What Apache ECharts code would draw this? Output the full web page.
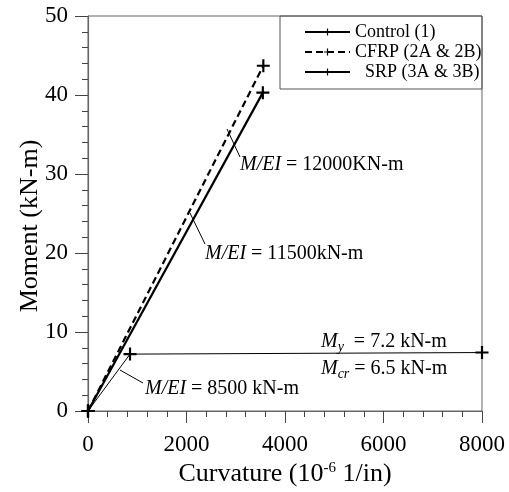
<!DOCTYPE html>
<html>
<head>
<meta charset="utf-8">
<script src="https://cdn.jsdelivr.net/npm/echarts@6/dist/echarts.min.js"></script>
<style>
  html, body { margin: 0; padding: 0; background: #fff; }
  #main { width: 509px; height: 492px; }
</style>
</head>
<body>
<div id="main"></div>
<script>
// data (curvature in 1e-6 1/in, moment in kN-m)
var controlData = [[0, 0], [853, 7.2], [8000, 7.4]];
var cfrpData = [[0, 0], [3560, 43.7]];
var srpData = [[0, 0], [3550, 40.3]];
var seriesNames = ['Control (1)', 'CFRP (2A & 2B)', 'SRP (3A & 3B)'];
var xTicks = [0, 2000, 4000, 6000, 8000];
var yTicks = [0, 10, 20, 30, 40, 50];

var serif = 'Liberation Serif';
var plus = 'path://M-1,-6H1V-1H6V1H1V6H-1V1H-6V-1H-1Z';

var myChart = echarts.init(document.getElementById('main'));

function note(x, y, value, unit) {
    return {
        type: 'text', x: x, y: y,
        style: {
            text: '{i|M/EI} = ' + value + unit,
            fontFamily: serif, fontSize: 20, fill: '#000',
            verticalAlign: 'middle',
            rich: { i: { fontFamily: serif, fontSize: 20, fontStyle: 'italic' } }
        }
    };
}
function leader(x1, y1, x2, y2) {
    return {
        type: 'line',
        shape: { x1: x1, y1: y1, x2: x2, y2: y2 },
        style: { stroke: '#000', lineWidth: 1 }
    };
}
function moment(x, y, sub, rest) {
    return {
        type: 'text', x: x, y: y,
        style: {
            text: '{i|M}{s|' + sub + '}' + rest,
            fontFamily: serif, fontSize: 20, fill: '#000',
            verticalAlign: 'middle',
            rich: {
                i: { fontFamily: serif, fontSize: 20, fontStyle: 'italic' },
                s: { fontFamily: serif, fontSize: 14, fontStyle: 'italic', verticalAlign: 'bottom', padding: [10, 0, 0, 0] }
            }
        }
    };
}

var option = {
    animation: false,
    grid: { left: 88, right: 27, top: 16, bottom: 81, show: true, borderColor: '#666', borderWidth: 1 },
    legend: {
        orient: 'vertical',
        left: 304, top: 23, padding: 0,
        itemWidth: 45, itemHeight: 9, itemGap: 2,
        data: seriesNames,
        formatter: function (name) {
            return name === seriesNames[2] ? '{b|' + name + '}' : '{a|' + name + '}';
        },
        textStyle: {
            fontFamily: serif, fontSize: 18, color: '#000',
            rich: {
                a: { fontFamily: serif, fontSize: 18, lineHeight: 18 },
                b: { fontFamily: serif, fontSize: 18, lineHeight: 18, padding: [0, 0, 0, 10] }
            }
        }
    },
    xAxis: {
        type: 'value', min: 0, max: 8000, interval: 2000,
        name: 'Curvature (10{sup|-6} 1/in)',
        nameLocation: 'middle', nameGap: 46,
        nameTextStyle: {
            fontFamily: serif, fontSize: 26, color: '#000',
            rich: { sup: { fontFamily: serif, fontSize: 15, verticalAlign: 'top', padding: [0, 0, 10, 0] } }
        },
        axisLine: { lineStyle: { color: '#666', width: 1.2 } },
        axisTick: { inside: false, length: 12, lineStyle: { color: '#444' } },
        minorTick: { show: true, splitNumber: 5, length: 6, lineStyle: { color: '#444' } },
        splitLine: { show: false },
        axisLabel: {
            margin: 22, fontFamily: serif, fontSize: 23, color: '#000',
            formatter: function (v) { return xTicks.indexOf(v) >= 0 ? String(v) : ''; }
        }
    },
    yAxis: {
        type: 'value', min: 0, max: 50, interval: 10,
        axisLine: { lineStyle: { color: '#666', width: 1.2 } },
        axisTick: { inside: false, length: 13, lineStyle: { color: '#444' } },
        minorTick: { show: true, splitNumber: 5, length: 6, lineStyle: { color: '#444' } },
        splitLine: { show: false },
        axisLabel: {
            margin: 20, fontFamily: serif, fontSize: 23, color: '#000',
            formatter: function (v) { return yTicks.indexOf(v) >= 0 ? String(v) : ''; }
        }
    },
    series: [
        {
            name: seriesNames[0], type: 'line', data: controlData,
            symbol: plus, symbolSize: 13,
            itemStyle: { color: '#000' },
            lineStyle: { color: '#000', width: 1 }
        },
        {
            name: seriesNames[1], type: 'line', data: cfrpData,
            symbol: plus, symbolSize: 13,
            itemStyle: { color: '#000' },
            lineStyle: { color: '#000', width: 2.2, type: [7, 4] }
        },
        {
            name: seriesNames[2], type: 'line', data: srpData,
            symbol: plus, symbolSize: 13,
            itemStyle: { color: '#000' },
            lineStyle: { color: '#000', width: 2.2 }
        }
    ],
    graphic: [
        {
            type: 'rect',
            shape: { x: 280, y: 16, width: 202, height: 73 },
            style: { fill: 'none', stroke: '#555', lineWidth: 1 },
            z: 10
        },
        // y axis title
        {
            type: 'text', x: 30, y: 226, rotation: Math.PI / 2,
            style: {
                text: 'Moment (kN-m)', fontFamily: serif, fontSize: 26, fill: '#000',
                align: 'center', verticalAlign: 'middle'
            }
        },
        leader(227, 129, 240, 157),
        note(240, 165, '12000', 'KN-m'),
        leader(190, 213, 205, 244),
        note(205, 254, '11500', 'kN-m'),
        leader(120, 370, 143, 383),
        note(145, 389, '8500', ' kN-m'),
        moment(321, 342, 'y', '  = 7.2 kN-m'),
        moment(321, 369, 'cr', ' = 6.5 kN-m')
    ]
};

myChart.setOption(option);
</script>
</body>
</html>
